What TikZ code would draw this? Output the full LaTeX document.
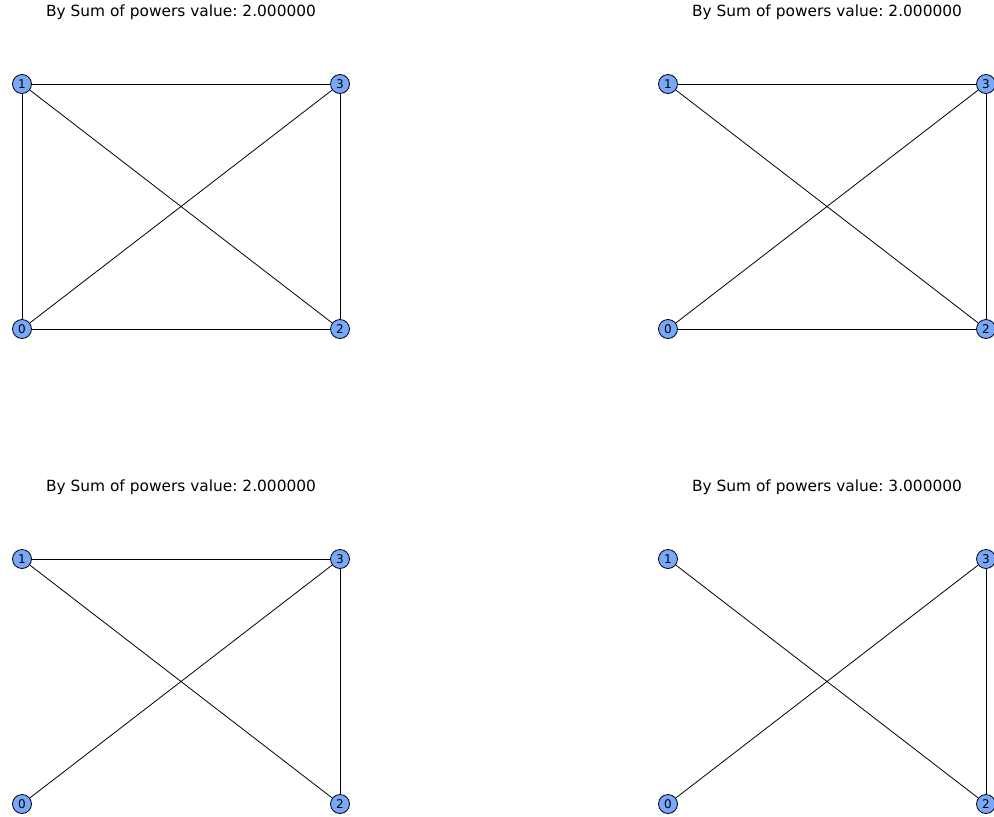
\documentclass[tikz,border=0pt]{standalone}
\usepackage{fontspec}
\setmainfont{DejaVu Sans}
\usetikzlibrary{positioning}
\definecolor{nodeblue}{RGB}{119,168,250}

\tikzset{
  vertex/.style={circle, draw=black, fill=nodeblue, line width=0.8pt, inner sep=0pt, minimum size=19pt, font=\fontsize{12}{12}\selectfont},
  edge/.style={draw=black, line width=0.8pt},
  paneltitle/.style={font=\fontsize{15.4}{15.4}\selectfont, anchor=center}
}

\begin{document}
\begin{tikzpicture}[x=1pt, y=-1pt]
  \useasboundingbox[fill=white] (0,0) rectangle (994,817);
  \foreach \ox/\oy/\val/\edgelist in {
      0/0/2/{1/3,1/0,1/2,0/3,0/2,3/2},
      646/0/2/{1/3,1/2,0/3,0/2,3/2},
      0/475/2/{1/3,1/2,0/3,3/2},
      646/475/3/{1/2,0/3,3/2}} {
    \node[paneltitle] (title) at (\ox+181,\oy+12) {By Sum of powers value:~\val.000000};
    % the four vertices of each drawing
    \node[vertex] (v1) at (\ox+22,\oy+84) {1};
    \node[vertex] (v3) at (\ox+340,\oy+84) {3};
    \node[vertex] (v0) at (\ox+22,\oy+329) {0};
    \node[vertex] (v2) at (\ox+340,\oy+329) {2};
    \foreach \a/\b in \edgelist {
      \draw[edge] (v\a) -- (v\b);
    }
  }
\end{tikzpicture}
\end{document}
